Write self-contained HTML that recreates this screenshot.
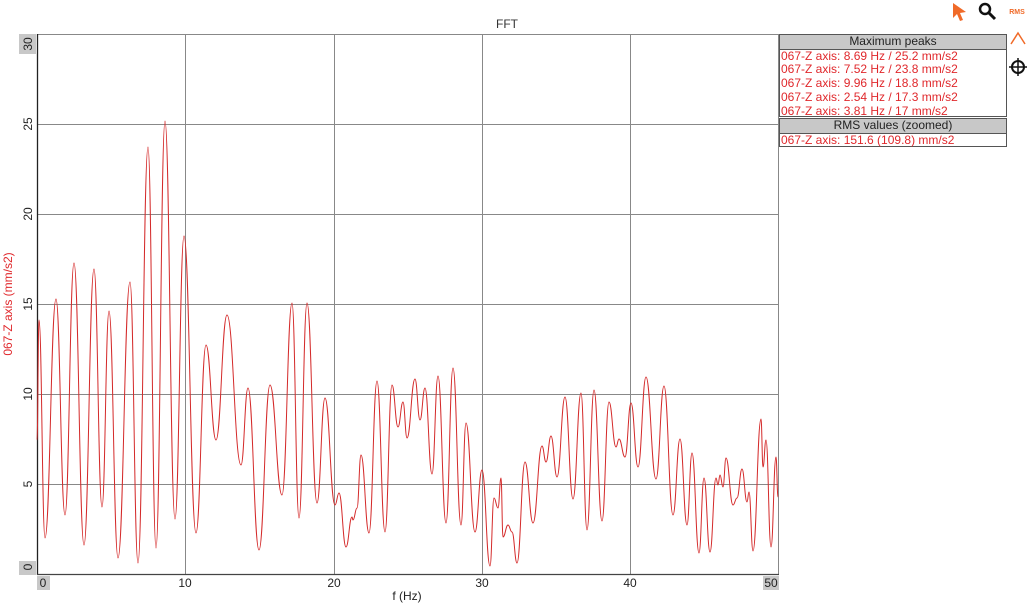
<!DOCTYPE html>
<html><head><meta charset="utf-8"><style>
body{margin:0;background:#fff;font-family:"Liberation Sans",sans-serif;}
.wrap{position:relative;width:1031px;height:608px;overflow:hidden;}
.lg{position:absolute;left:779px;width:228px;border:1px solid #555;font-size:12px;line-height:13.7px;color:#e0282c;box-sizing:border-box;}
.lg .h{background:#c8c8c8;color:#222;text-align:center;border-bottom:1px solid #555;}
.lg div.r{padding-left:1px;white-space:nowrap;}
</style></head><body><div class="wrap">
<svg width="1031" height="608" style="position:absolute;left:0;top:0" font-family="Liberation Sans, sans-serif">
<text x="507" y="28" font-size="12" text-anchor="middle" fill="#333">FFT</text>
<g stroke="#888" stroke-width="1">
<line x1="185.5" y1="34" x2="185.5" y2="574"/><line x1="334.5" y1="34" x2="334.5" y2="574"/>
<line x1="482.5" y1="34" x2="482.5" y2="574"/><line x1="630.5" y1="34" x2="630.5" y2="574"/>
<line x1="778.5" y1="34" x2="778.5" y2="574"/>
<line x1="37" y1="34.5" x2="779" y2="34.5"/><line x1="37" y1="124.5" x2="779" y2="124.5"/>
<line x1="37" y1="214.5" x2="779" y2="214.5"/><line x1="37" y1="304.5" x2="779" y2="304.5"/>
<line x1="37" y1="394.5" x2="779" y2="394.5"/><line x1="37" y1="484.5" x2="779" y2="484.5"/>
</g>
<line x1="37.5" y1="34" x2="37.5" y2="575" stroke="#222" stroke-width="1.3"/>
<line x1="37" y1="574.5" x2="779" y2="574.5" stroke="#444" stroke-width="1.3"/>
<rect x="19" y="34" width="17" height="20" fill="#c8c8c8"/>
<rect x="19" y="561" width="17" height="14" fill="#c8c8c8"/>
<rect x="37" y="576" width="13" height="14" fill="#c8c8c8"/>
<rect x="763" y="576" width="16" height="14" fill="#c8c8c8"/>
<g font-size="12" fill="#222" text-anchor="middle">
<text transform="translate(32,44) rotate(-90)">30</text>
<text transform="translate(32,124) rotate(-90)">25</text>
<text transform="translate(32,214) rotate(-90)">20</text>
<text transform="translate(32,304) rotate(-90)">15</text>
<text transform="translate(32,394) rotate(-90)">10</text>
<text transform="translate(32,484) rotate(-90)">5</text>
<text transform="translate(32,567) rotate(-90)">0</text>
<text x="43" y="587">0</text><text x="185" y="587">10</text><text x="334" y="587">20</text>
<text x="482" y="587">30</text><text x="630" y="587">40</text><text x="771" y="587">50</text>
<text x="407" y="600">f (Hz)</text>
</g>
<text transform="translate(12,304) rotate(-90)" font-size="12" fill="#e0282c" text-anchor="middle">067-Z axis (mm/s2)</text>
<path id="p" fill="none" stroke="#d42a2a" stroke-width="1"/>
<polygon points="953,3 966,12 960,13 963,20 960,21 957,14 953,18" fill="#f06a28"/>
<circle cx="985" cy="9" r="5" fill="none" stroke="#111" stroke-width="2.5"/>
<line x1="989" y1="13" x2="995" y2="19" stroke="#111" stroke-width="3"/>
<text x="1017" y="14" font-size="7" font-weight="bold" fill="#f06a28" text-anchor="middle">RMS</text>
<polyline points="1011,44 1018,33 1025,44" fill="none" stroke="#f06a28" stroke-width="1.5"/>
<circle cx="1018" cy="67" r="6" fill="none" stroke="#111" stroke-width="2"/>
<line x1="1009" y1="67" x2="1027" y2="67" stroke="#111" stroke-width="1.5"/>
<line x1="1018" y1="58" x2="1018" y2="76" stroke="#111" stroke-width="1.5"/>
</svg>
<div class="lg" style="top:34px;height:83px">
<div class="h">Maximum peaks</div>
<div class="r">067-Z axis: 8.69 Hz / 25.2 mm/s2</div>
<div class="r">067-Z axis: 7.52 Hz / 23.8 mm/s2</div>
<div class="r">067-Z axis: 9.96 Hz / 18.8 mm/s2</div>
<div class="r">067-Z axis: 2.54 Hz / 17.3 mm/s2</div>
<div class="r">067-Z axis: 3.81 Hz / 17 mm/s2</div>
</div>
<div class="lg" style="top:118px;height:29px">
<div class="h">RMS values (zoomed)</div>
<div class="r">067-Z axis: 151.6 (109.8) mm/s2</div>
</div>
</div>
<script>
var P=[[37,440],[39,320],[45,538],[56,299],[65,515],[74,263],[84,545],[94,269],[102,507],[109,311],[118,558],[130,282],[138,563],[148,147],[156,548],[165,121],[175,519],[184,236],[196,533],[206,345],[216,440],[227,315],[241,465],[248,388],[259,550],[270,385],[282,495],[292,303],[299,518],[307,303],[317,503],[325,398],[335,505],[339,493],[346,547],[352,517],[353,520],[357,508],[361,455],[369,533],[377,381],[385,532],[392,385],[398,427],[403,402],[407,438],[415,379],[420,420],[425,388],[432,474],[438,376],[446,523],[453,368],[461,525],[466,423],[475,532],[482,470],[490,566],[494,498],[498,508],[501,478],[503,537],[508,525],[512,532],[517,563],[525,462],[533,523],[542,446],[546,462],[551,436],[557,477],[565,397],[573,499],[581,393],[587,530],[594,390],[602,521],[609,402],[616,447],[619,439],[625,457],[631,403],[638,467],[646,377],[656,479],[664,386],[673,515],[680,439],[687,525],[692,453],[699,553],[704,478],[710,552],[716,478],[718,485],[720,475],[723,487],[726,458],[733,505],[737,498],[742,469],[747,502],[749,492],[753,551],[761,419],[763,467],[766,440],[771,547],[776,457],[778,497]];
var d="M"+P[0][0]+","+P[0][1];
for(var i=1;i<P.length;i++){var a=P[i-1],b=P[i],dx=(b[0]-a[0])/2.2;
d+=" C"+(a[0]+dx)+","+a[1]+" "+(b[0]-dx)+","+b[1]+" "+b[0]+","+b[1];}
document.getElementById("p").setAttribute("d",d);
</script>
</body></html>
